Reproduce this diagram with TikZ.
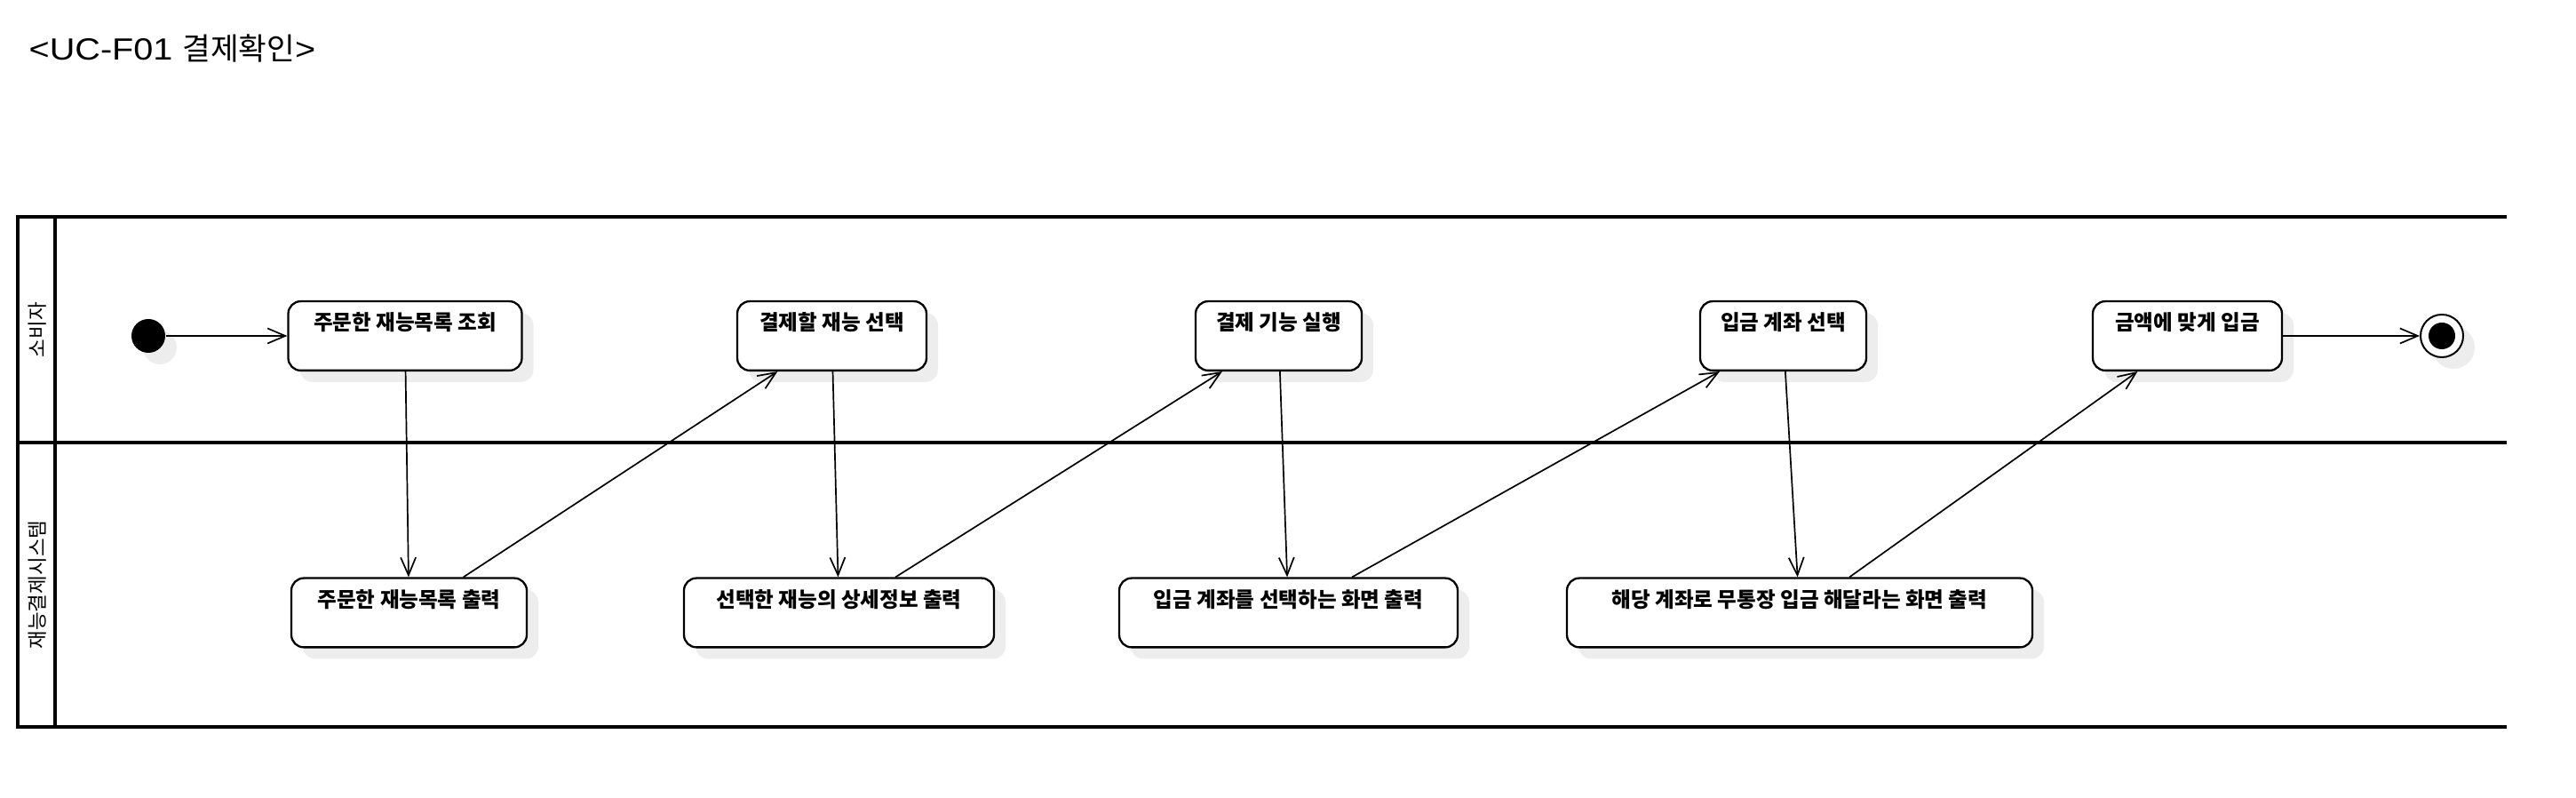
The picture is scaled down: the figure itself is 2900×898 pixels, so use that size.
\documentclass[tikz,border=0pt]{standalone}
\usepackage{fontspec}
\setmainfont{Noto Sans CJK KR}
\newfontfamily\titlefont[FakeStretch=1.15]{Liberation Sans}
\usepackage{tikz}
\usetikzlibrary{arrows.meta}
\usetikzlibrary{shadows}
\newcommand{\actfont}{\fontsize{6.7pt}{7pt}\selectfont\bfseries}

\begin{document}
\begin{tikzpicture}[x=0.1mm,y=-0.1mm]
	\tikzset{
		lane/.style={line width=0.38mm,line cap=rect,line join=miter},
		lanelabel/.style={rotate=90,inner sep=0,font=\fontsize{6.4pt}{7pt}\selectfont},
		%
		umlshadow/.style={drop shadow={shadow xshift=1.3mm,shadow yshift=-1.3mm,fill=black!7,opacity=1}},
		action/.style={draw,line width=0.23mm,rounded corners=1.4mm,fill=white,umlshadow,
			inner xsep=0,inner ysep=0,text height=3.25mm,text depth=4.53mm,font=\actfont},
		startdot/.style={circle,fill=black,minimum size=3.8mm,inner sep=0,umlshadow},
		enddot/.style={circle,draw,line width=0.2mm,fill=white,minimum size=4.8mm,inner sep=0,umlshadow},
		%
		flow/.style={line width=0.17mm,-{Straight Barb[length=2mm,width=1.7mm]}}
	}
	
	\useasboundingbox[fill=white] (0,0) rectangle (2900,898);
	
	\node[anchor=base west,inner sep=0,font=\fontsize{9.8pt}{11pt}\selectfont] (title) at (32,68)
		{{\titlefont <UC-F01 }결제확인{\titlefont >}};
	
	% swimlanes
	\draw[lane] (2820,244) -- (20,244) -- (20,818) -- (2820,818);
	\draw[lane] (62,244) -- (62,818);
	\draw[lane] (20,498) -- (2820,498);
	\node[lanelabel] (consumer) at (42,371) {소비자};
	\node[lanelabel] (system) at (42,658) {재능결제시스템};
	
	% actions
	\foreach \name/\x/\w/\txt in {a1/456/26.3/주문한 재능목록 조회, a2/936.5/21.3/결제할 재능 선택,
		a3/1439.5/18.7/결제 기능 실행, a4/2007.5/18.7/입금 계좌 선택, a5/2462.5/21.3/금액에 맞게 입금}
		\node[action,minimum width=\w mm] (\name) at (\x,378) {\txt};
	\foreach \name/\x/\w/\txt in {b1/460.5/26.5/주문한 재능목록 출력, b2/944.5/34.9/선택한 재능의 상세정보 출력,
		b3/1450.5/38.1/입금 계좌를 선택하는 화면 출력, b4/2026/52.4/해당 계좌로 무통장 입금 해달라는 화면 출력}
		\node[action,minimum width=\w mm] (\name) at (\x,689.5) {\txt};
	
	\node[startdot] (start) at (167,378) {};
	\node[enddot] (stop) at (2749,378) {};
	\fill (stop.center) circle (1.5mm);
	
	\foreach \from/\to in {start/a1, a1/b1, b1/a2, a2/b2, b2/a3, a3/b3, b3/a4, a4/b4, b4/a5, a5/stop}
		\draw[flow] (\from) -- (\to);
\end{tikzpicture}
\end{document}
